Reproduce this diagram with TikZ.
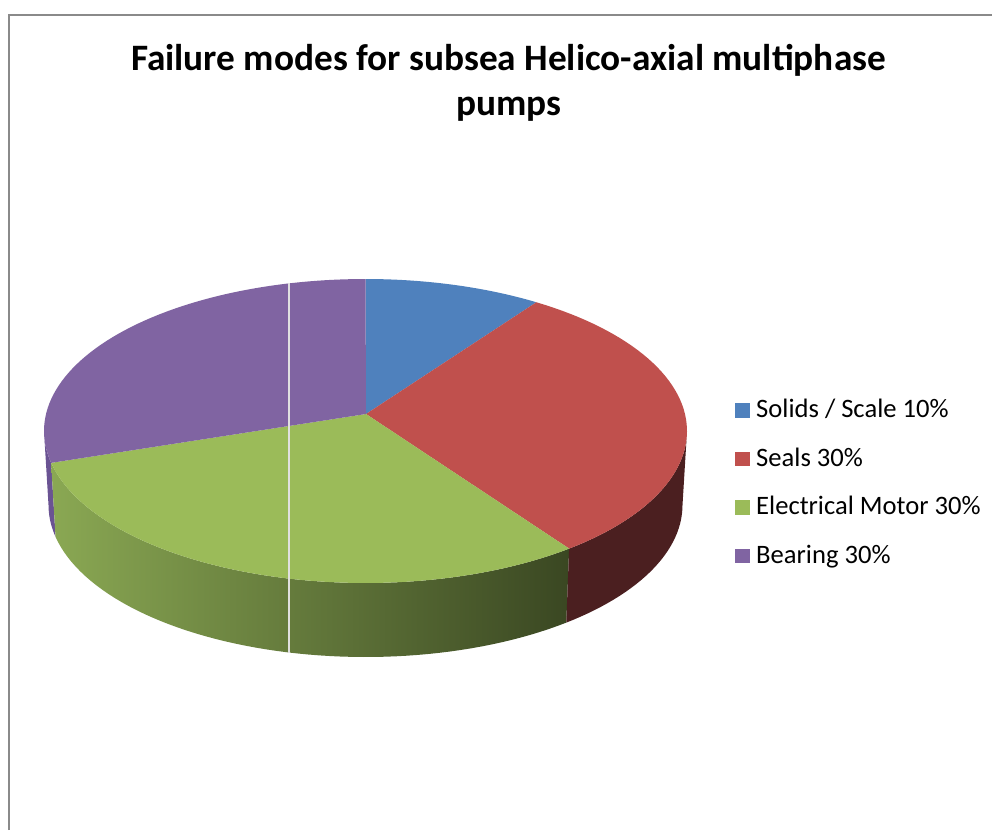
\documentclass[tikz,border=0pt]{standalone}
\usepackage{fontspec}
\setmainfont{Carlito}
\definecolor{sliceblue}{HTML}{4F81BD}
\definecolor{slicered}{HTML}{C0504D}
\definecolor{slicegreen}{HTML}{9BBB59}
\definecolor{slicepurple}{HTML}{8064A2}
\definecolor{sidered}{HTML}{4B1F20}
\definecolor{sidepurple}{HTML}{6A5393}
\definecolor{greenlight}{HTML}{8AA853}
\definecolor{greenmid}{HTML}{627A39}
\definecolor{greendark}{HTML}{3A4722}
\definecolor{framegray}{HTML}{8A8A8A}
\begin{document}
\begin{tikzpicture}[x=1pt,y={(0pt,-1pt)},
  keybox/.style={draw=none,minimum size=14.5pt,inner sep=0pt},
  keytext/.style={anchor=base west,inner sep=0pt,font=\fontsize{26.6}{32}\selectfont},
  titletext/.style={anchor=base,inner sep=0pt,font=\fontsize{37.3}{45}\selectfont\bfseries}]
\useasboundingbox (0,0) rectangle (992,830);
\fill[white] (0,0) rectangle (992,830);
% chart frame
\draw[framegray,line width=2pt] (8.5,830) -- (8.5,14.8) -- (992,14.8);

% pie geometry: top ellipse, bottom ellipse, apex of the slices
\def\cx{365.5}\def\cy{431}\def\rx{321.5}\def\ry{152}
\def\dep{74}\def\rxb{317}
\coordinate (apex) at (366,414);

% side walls
\fill[sidepurple] plot[domain=180:192.1,samples=10,variable=\t] ({\cx+\rx*cos(\t)},{\cy-\ry*sin(\t)})
  -- plot[domain=192.1:180,samples=10,variable=\t] ({\cx+\rxb*cos(\t)},{\cy+\dep-\ry*sin(\t)}) -- cycle;
\shade[left color=greenlight,middle color=greenmid,right color=greendark]
  plot[domain=192.1:309.3,samples=60,variable=\t] ({\cx+\rx*cos(\t)},{\cy-\ry*sin(\t)})
  -- plot[domain=309.3:192.1,samples=60,variable=\t] ({\cx+\rxb*cos(\t)},{\cy+\dep-\ry*sin(\t)}) -- cycle;
\fill[sidered] plot[domain=309.3:360,samples=30,variable=\t] ({\cx+\rx*cos(\t)},{\cy-\ry*sin(\t)})
  -- plot[domain=360:309.3,samples=30,variable=\t] ({\cx+\rxb*cos(\t)},{\cy+\dep-\ry*sin(\t)}) -- cycle;

% top faces of the slices
\fill[sliceblue] (apex) -- plot[domain=90:57.9,samples=30,variable=\t] ({\cx+\rx*cos(\t)},{\cy-\ry*sin(\t)}) -- cycle;
\fill[slicered] (apex) -- plot[domain=57.9:-50.7,samples=60,variable=\t] ({\cx+\rx*cos(\t)},{\cy-\ry*sin(\t)}) -- cycle;
\fill[slicegreen] (apex) -- plot[domain=-50.7:-167.9,samples=60,variable=\t] ({\cx+\rx*cos(\t)},{\cy-\ry*sin(\t)}) -- cycle;
\fill[slicepurple] (apex) -- plot[domain=192.1:90,samples=60,variable=\t] ({\cx+\rx*cos(\t)},{\cy-\ry*sin(\t)}) -- cycle;

% thin light rule across the pie
\coordinate (ruletop) at (289,283.4);
\coordinate (rulebot) at (289,653);
\draw[white!88!black,line width=1.3pt] (ruletop) -- (rulebot);

% title
\node[titletext] (title1) at (508.5,70) {Failure modes for subsea Helico-axial multiphase};
\node[titletext] (title2) at (509,115) {pumps};

% legend
\node[keybox,fill=sliceblue] (k1) at (742.5,410.5) {};
\node[keytext] (l1) at (756,417.5) {Solids / Scale 10\%};
\node[keybox,fill=slicered] (k2) at (742.5,459) {};
\node[keytext] (l2) at (756,466) {Seals 30\%};
\node[keybox,fill=slicegreen] (k3) at (742.5,507.5) {};
\node[keytext] (l3) at (756,514.5) {Electrical Motor 30\%};
\node[keybox,fill=slicepurple] (k4) at (742.5,556) {};
\node[keytext] (l4) at (756,563) {Bearing 30\%};
\end{tikzpicture}
\end{document}
